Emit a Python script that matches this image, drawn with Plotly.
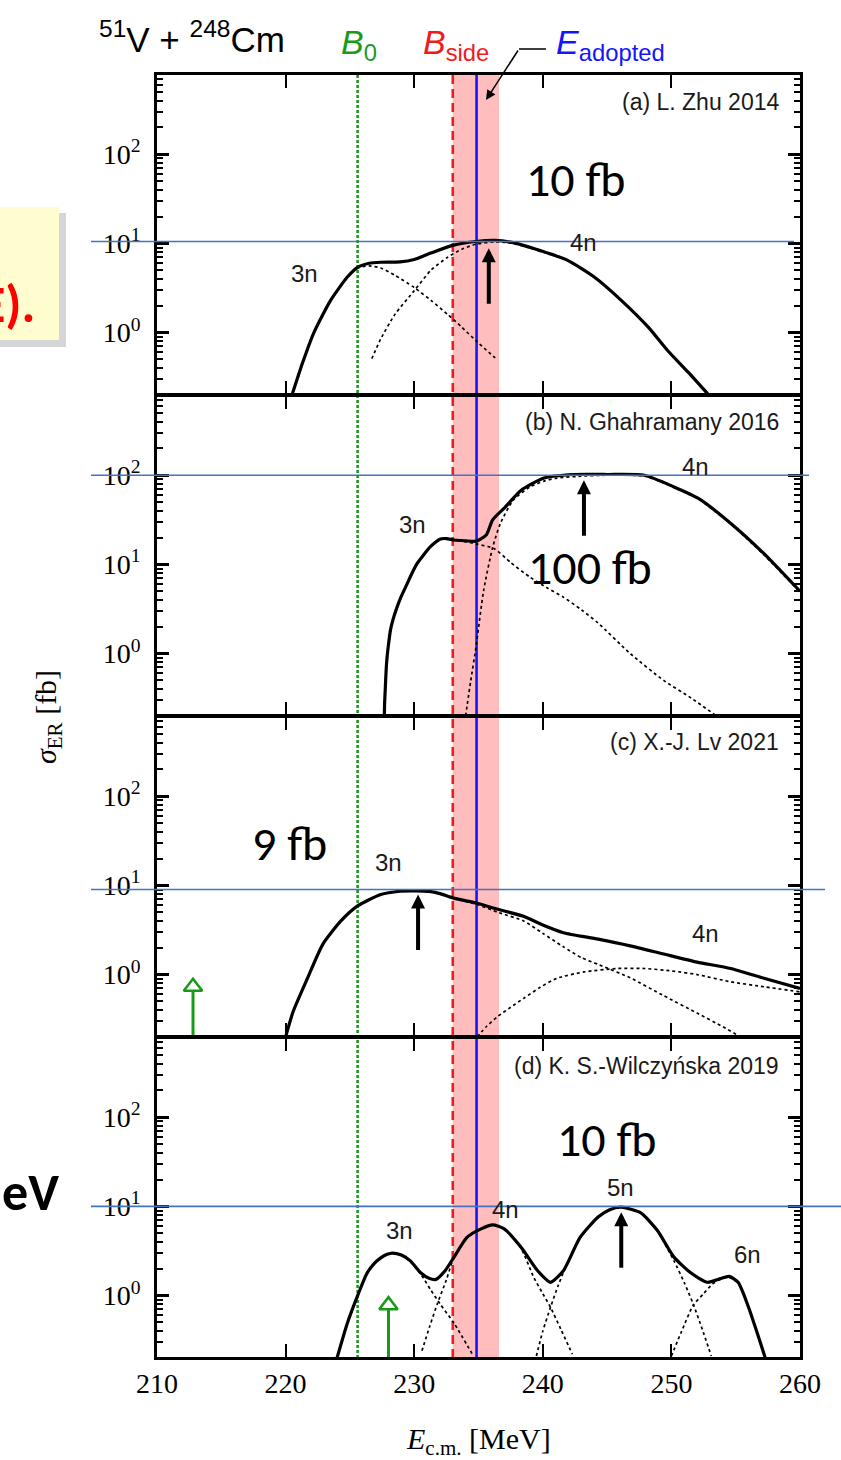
import plotly.graph_objects as go
from plotly.subplots import make_subplots
import numpy as np

W, H = 841, 1460
ML, MR, MT, MB = 157, 41, 74, 102

SANS = "Liberation Sans, Arial, sans-serif"
SERIF = "Liberation Serif, Times New Roman, serif"
CAL = "Carlito, Lato, sans-serif"

# ---------------- data (E_cm in MeV, sigma_ER in fb) ----------------
# (a) L. Zhu 2014
a_E_tot = [220.5, 221.3, 222.2, 223.5, 224.8, 225.6, 226.5, 227.4, 228.9, 230.0, 231.3, 233.0, 234.8,
           236.3, 237.7, 239.8, 241.9, 244.0, 246.1, 248.2, 249.7, 251.3, 252.9]
a_tot = [0.2, 0.45, 1.0, 2.3, 4.2, 5.4, 6.0, 6.15, 6.2, 6.6, 7.8, 9.5, 10.5,
         10.8, 10.2, 8.3, 6.5, 4.2, 2.3, 1.15, 0.63, 0.36, 0.2]
a_E_3n = [220.5, 222.2, 223.5, 224.8, 225.6, 226.5, 227.4, 228.5, 230.0, 231.3, 232.6, 233.7, 234.8, 236.3]
a_3n = [0.2, 1.0, 2.3, 4.2, 5.3, 5.6, 5.3, 4.4, 3.2, 2.3, 1.6, 1.15, 0.81, 0.52]
a_E_4n = [226.7, 227.4, 228.5, 230.0, 231.3, 232.6, 233.7, 234.8, 236.3, 237.7, 239.8, 241.9, 244.0,
          246.1, 248.2, 249.7, 251.3, 252.9]
a_4n = [0.51, 0.85, 1.6, 2.95, 5.0, 7.0, 8.6, 9.8, 10.4, 10.0, 8.2, 6.45, 4.2, 2.3, 1.15, 0.63, 0.36, 0.2]

# (b) N. Ghahramany 2016
b_E_tot = [227.68, 227.70, 227.75, 227.82, 227.89, 228.0, 228.15, 228.35, 228.66, 229.0, 229.44, 229.8,
           230.22, 230.7, 231.26, 232.04, 232.5, 233.1, 234.0, 234.8, 235.6, 236.1, 237.0, 238.3,
           240.1, 242.4, 245.0, 247.9, 250.2, 252.1, 254.6, 257.2, 260.0]
b_tot = [0.2, 0.28, 0.40, 0.66, 0.91, 1.26, 1.82, 2.4, 3.3, 4.4, 6.0, 7.8,
         10.2, 12.6, 15.8, 19.3, 19.5, 18.8, 18.4, 18.2, 21.4, 31.6, 42.7, 67.6,
         93, 102, 102, 100, 74, 55, 29, 13.2, 5.0]
b_E_3n = [227.68, 227.70, 227.75, 227.82, 227.89, 228.0, 228.15, 228.35, 228.66, 229.0, 229.44, 229.8,
          230.22, 230.7, 231.26, 232.04, 232.5, 233.1, 234.0, 234.8, 236.2, 237.5, 239.0, 240.3,
          241.6, 243.0, 244.3, 246.8, 249.4, 251.5, 253.5]
b_3n = [0.2, 0.28, 0.40, 0.66, 0.91, 1.26, 1.82, 2.4, 3.3, 4.4, 6.0, 7.8,
        10.2, 12.6, 15.8, 19.3, 19.5, 18.8, 18.0, 17.0, 15.1, 10.5, 7.2, 5.5,
        4.3, 3.1, 2.2, 1.0, 0.5, 0.32, 0.2]
b_E_4n = [234.0, 234.4, 234.8, 235.4, 236.1, 236.7, 237.7, 239.0, 240.1, 241.1, 243.2, 245.0, 247.9,
          250.2, 252.1, 254.6, 257.2, 260.0]
b_4n = [0.2, 0.5, 1.17, 5.1, 15.5, 28.8, 52.5, 74, 86, 93, 98, 100, 98, 73, 54, 28.5, 12.8, 4.9]

# (c) X.-J. Lv 2021
c_E_tot = [220.0, 220.6, 221.7, 222.9, 224.3, 225.6, 227.4, 228.9, 230.0, 231.3, 232.0, 233.1, 234.9,
           236.5, 238.5, 240.0, 241.6, 244.3, 246.8, 249.4, 252.0, 254.6, 257.2, 260.0]
c_tot = [0.2, 0.39, 0.91, 2.2, 4.0, 5.9, 7.9, 8.6, 8.7, 8.5, 8.1, 7.2, 6.3,
         5.4, 4.5, 3.6, 2.95, 2.5, 2.1, 1.7, 1.38, 1.17, 0.91, 0.70]
c_E_3n = [220.0, 220.6, 221.7, 222.9, 224.3, 225.6, 227.4, 228.9, 230.0, 231.3, 232.0, 233.1, 234.9,
          236.5, 238.5, 240.0, 241.6, 243.0, 244.3, 246.8, 249.4, 252.0, 254.0, 255.4]
c_3n = [0.2, 0.39, 0.91, 2.2, 4.0, 5.9, 7.9, 8.6, 8.7, 8.5, 8.1, 7.2, 6.1,
        5.0, 4.0, 2.9, 2.05, 1.55, 1.3, 0.92, 0.58, 0.37, 0.26, 0.2]
c_E_4n = [234.9, 235.6, 236.5, 237.5, 238.5, 239.8, 241.1, 243.2, 245.8, 247.9, 250.0, 252.0, 254.6,
          257.2, 260.0]
c_4n = [0.2, 0.26, 0.34, 0.43, 0.54, 0.72, 0.91, 1.07, 1.17, 1.17, 1.1, 1.0, 0.83, 0.73, 0.64]

# (d) K. S.-Wilczynska 2019
d_E_tot = [224.0, 224.8, 225.6, 226.3, 226.9, 227.4, 227.9, 228.3, 229.0, 229.7, 230.5, 231.2, 231.7,
           232.4, 233.1, 234.1, 235.2, 236.1, 237.0, 238.3, 239.6, 240.6, 241.6, 242.9, 244.3, 245.2,
           246.1, 247.6, 248.9, 250.2, 251.5, 252.8, 253.8, 254.5, 255.2, 256.0, 256.7, 257.3]
d_tot = [0.2, 0.49, 1.0, 1.75, 2.3, 2.65, 2.9, 3.0, 2.85, 2.45, 1.8, 1.55, 1.52,
         1.9, 2.7, 4.5, 5.6, 6.2, 5.6, 3.5, 1.9, 1.41, 1.9, 4.5, 7.6, 9.2,
         9.8, 8.5, 5.4, 2.7, 1.8, 1.41, 1.55, 1.64, 1.4, 0.74, 0.37, 0.2]
d_E_3n = [224.0, 224.8, 225.6, 226.3, 226.9, 227.4, 227.9, 228.3, 229.0, 229.7, 230.5, 231.3, 232.0,
          233.1, 234.6]
d_3n = [0.2, 0.49, 1.0, 1.75, 2.3, 2.65, 2.9, 3.0, 2.85, 2.4, 1.75, 1.15, 0.81, 0.49, 0.21]
d_E_4n = [230.6, 231.2, 231.8, 232.5, 233.1, 234.1, 235.2, 236.1, 237.0, 238.3, 239.3, 240.0, 240.6,
          241.4, 242.3]
d_4n = [0.24, 0.45, 0.81, 1.5, 2.7, 4.4, 5.6, 6.2, 5.6, 3.4, 1.6, 1.05, 0.74, 0.42, 0.22]
d_E_5n = [239.5, 240.0, 240.6, 241.2, 241.9, 242.9, 244.3, 245.2, 246.1, 247.6, 248.9, 250.2, 251.0,
          251.7, 252.4, 253.1]
d_5n = [0.21, 0.4, 0.74, 1.3, 2.3, 4.4, 7.6, 9.2, 9.8, 8.5, 5.3, 2.45, 1.4, 0.8, 0.42, 0.21]
d_E_6n = [250.0, 250.8, 251.7, 252.5, 253.2, 253.8, 254.5, 255.2, 256.0, 256.7, 257.3]
d_6n = [0.21, 0.4, 0.78, 1.05, 1.35, 1.52, 1.6, 1.38, 0.74, 0.37, 0.2]

panel_labels = ["(a) L. Zhu 2014", "(b) N. Ghahramany 2016", "(c) X.-J. Lv 2021",
                "(d) K. S.-Wilczyńska 2019"]

# reference energies (MeV)
E_B0 = 225.6
E_Bside = 233.0
E_adopted = 234.85
band_E = [233.0, 236.6]

# black arrows (tip energy, tip value)
arrow_E = [235.8, 243.2, 230.3, 246.1]
arrow_tip = [8.8, 88, 7.9, 8.6]
# green open arrows (row, energy, head-center value, shaft top value)
green_rows = [3, 4]
green_E = [212.8, 228.0]
green_head = [0.73, 0.78]
green_shaft_top = [0.66, 0.70]

# blue horizontal guide levels
guide_vals = [10.5, 100, 9, 10]
guide_labels = ["10 fb", "100 fb", "9 fb", "10 fb"]

# ---------------- figure ----------------
fig = make_subplots(rows=4, cols=1, shared_xaxes=True, vertical_spacing=0)

panels = [
    (a_E_tot, a_tot, [(a_E_3n, a_3n), (a_E_4n, a_4n)]),
    (b_E_tot, b_tot, [(b_E_3n, b_3n), (b_E_4n, b_4n)]),
    (c_E_tot, c_tot, [(c_E_3n, c_3n), (c_E_4n, c_4n)]),
    (d_E_tot, d_tot, [(d_E_3n, d_3n), (d_E_4n, d_4n), (d_E_5n, d_5n), (d_E_6n, d_6n)]),
]

for r, (Et, st, comps) in enumerate(panels, start=1):
    for Ec, sc in comps:
        fig.add_trace(go.Scatter(x=Ec, y=sc, mode="lines",
                                 line=dict(color="black", width=1.7, dash="3px,3px",
                                           shape="spline", smoothing=0.6),
                                 showlegend=False, hoverinfo="skip"), row=r, col=1)
    fig.add_trace(go.Scatter(x=Et, y=st, mode="lines",
                             line=dict(color="black", width=3.2, shape="spline", smoothing=0.6),
                             showlegend=False, hoverinfo="skip"), row=r, col=1)

GREEN = "#1a9a1a"
RED = "#f01c1c"
BLUE = "#1414ff"

# green open arrows
for r, e, hv, st in zip(green_rows, green_E, green_head, green_shaft_top):
    fig.add_trace(go.Scatter(x=[e, e], y=[0.1, st], mode="lines",
                             line=dict(color=GREEN, width=3), showlegend=False,
                             hoverinfo="skip"), row=r, col=1)
    fig.add_trace(go.Scatter(x=[e], y=[hv], mode="markers",
                             marker=dict(symbol="triangle-up-open", size=16, color=GREEN,
                                         line=dict(color=GREEN, width=2.6)),
                             showlegend=False, hoverinfo="skip"), row=r, col=1)

minor_vals = [m * d for d in (0.1, 1, 10, 100) for m in range(2, 10) if 0.2 <= m * d <= 800]

for r in range(1, 5):
    fig.update_xaxes(row=r, col=1, range=[210, 260], tick0=210, dtick=10,
                     ticks="inside", ticklen=14, tickwidth=2, tickcolor="black",
                     showline=True, linecolor="black", linewidth=1.5, mirror="allticks",
                     showgrid=False, zeroline=False,
                     tickfont=dict(family=SERIF, size=28, color="black"),
                     ticklabelstandoff=0)
    fig.update_yaxes(row=r, col=1, type="log", range=[-0.7, 2.9],
                     tickmode="array", tickvals=[1, 10, 100],
                     ticktext=["10<sup>0</sup>", "10<sup>1</sup>", "10<sup>2</sup>"],
                     ticks="inside", ticklen=12, tickwidth=2.5, tickcolor="black",
                     minor=dict(tickmode="array", tickvals=minor_vals, ticks="inside",
                                ticklen=6, tickwidth=2, tickcolor="black", showgrid=False),
                     showline=True, linecolor="black", linewidth=2.5, mirror="allticks",
                     showgrid=False, zeroline=False,
                     tickfont=dict(family=SERIF, size=28, color="black"),
                     ticklabelstandoff=8)


def px(x):
    return (x - ML) / (W - ML - MR)


def py(y):
    return (H - MB - y) / (H - MT - MB)


shapes = []
# slide-like yellow box (cropped) with shadow
shapes.append(dict(type="rect", xref="paper", yref="paper", x0=px(-10), x1=px(66),
                   y0=py(347), y1=py(213), fillcolor="rgba(120,120,120,0.30)", line_width=0,
                   layer="below"))
shapes.append(dict(type="rect", xref="paper", yref="paper", x0=px(-10), x1=px(59),
                   y0=py(340), y1=py(207), fillcolor="#FFFDD0", line_width=0, layer="below"))
# band and vertical lines
shapes.append(dict(type="rect", xref="x", yref="paper", x0=band_E[0], x1=band_E[1], y0=0, y1=1,
                   fillcolor="#FFBDBD", line_width=0, layer="below"))
shapes.append(dict(type="line", xref="x", yref="paper", x0=E_B0, x1=E_B0, y0=0, y1=1,
                   line=dict(color=GREEN, width=2.6, dash="3px,2px"), layer="below"))
shapes.append(dict(type="line", xref="x", yref="paper", x0=E_Bside, x1=E_Bside, y0=0, y1=1,
                   line=dict(color=RED, width=2.6, dash="9px,5px"), layer="below"))
shapes.append(dict(type="line", xref="x", yref="paper", x0=E_adopted, x1=E_adopted, y0=0, y1=1,
                   line=dict(color=BLUE, width=2.6), layer="below"))
# thicker outer frame edges (top and bottom)
for yy in (0, 1):
    shapes.append(dict(type="line", xref="paper", yref="paper", x0=0, x1=1, y0=yy, y1=yy,
                       line=dict(color="black", width=2.2), layer="above"))
# blue guide lines
guide_x1 = [794, 809, 825, 845]
for r, (v, x1) in enumerate(zip(guide_vals, guide_x1), start=1):
    yr = "y" if r == 1 else f"y{r}"
    shapes.append(dict(type="line", xref="paper", yref=yr, x0=px(91), x1=px(x1), y0=v, y1=v,
                       line=dict(color="#4472C4", width=1.6), layer="above"))
# leader for E_adopted label
shapes.append(dict(type="line", xref="paper", yref="paper", x0=px(519), x1=px(546),
                   y0=py(49), y1=py(49), line=dict(color="black", width=1.5)))
fig.update_layout(shapes=shapes)

ann = []
# black up arrows
for r, e, t in zip(range(1, 5), arrow_E, arrow_tip):
    xr = "x" if r == 1 else f"x{r}"
    yr = "y" if r == 1 else f"y{r}"
    ann.append(dict(x=e, y=np.log10(t), xref=xr, yref=yr, text="", showarrow=True,
                    ax=0, ay=57, arrowhead=2, arrowsize=0.7, arrowwidth=4, arrowcolor="black"))
# leader arrow
ann.append(dict(x=px(486), y=py(100), xref="paper", yref="paper", text="", showarrow=True,
                ax=33, ay=-51, arrowhead=2, arrowsize=1.3, arrowwidth=1.5, arrowcolor="black"))

# panel labels
for lab, yy in zip(panel_labels, [102, 422, 742, 1066]):
    ann.append(dict(x=px(781), y=py(yy), xref="paper", yref="paper", text=lab, showarrow=False,
                    xanchor="right", yanchor="middle",
                    font=dict(family=SANS, size=23, color="#1a1a1a")))
# channel labels
chan = [("3n", 304, 273), ("4n", 583, 243), ("3n", 412, 524), ("4n", 695, 466),
        ("3n", 388, 862), ("4n", 705, 933), ("3n", 399, 1230), ("4n", 505, 1209),
        ("5n", 620, 1187), ("6n", 747, 1254)]
for t, xx, yy in chan:
    ann.append(dict(x=px(xx), y=py(yy), xref="paper", yref="paper", text=t, showarrow=False,
                    xanchor="center", yanchor="middle",
                    font=dict(family=SANS, size=24, color="#1a1a1a")))
# fb labels
for t, (xx, yy) in zip(guide_labels, [(575, 180), (589, 567), (289, 843), (606, 1139)]):
    ann.append(dict(x=px(xx), y=py(yy), xref="paper", yref="paper", text=t, showarrow=False,
                    xanchor="center", yanchor="middle",
                    font=dict(family=CAL, size=48, color="black")))
# top header
ann.append(dict(x=px(97), y=py(37), xref="paper", yref="paper",
                text="<sup>51</sup>V + <sup>248</sup>Cm", showarrow=False,
                xanchor="left", yanchor="middle", font=dict(family=SANS, size=35, color="black")))
ann.append(dict(x=px(339), y=py(45), xref="paper", yref="paper",
                text="<i>B</i><sub>0</sub>", showarrow=False,
                xanchor="left", yanchor="middle", font=dict(family=SANS, size=34, color=GREEN)))
ann.append(dict(x=px(421), y=py(45), xref="paper", yref="paper",
                text="<i>B</i><sub>side</sub>", showarrow=False,
                xanchor="left", yanchor="middle", font=dict(family=SANS, size=34, color=RED)))
ann.append(dict(x=px(554), y=py(45), xref="paper", yref="paper",
                text="<i>E</i><sub>adopted</sub>", showarrow=False,
                xanchor="left", yanchor="middle", font=dict(family=SANS, size=34, color=BLUE)))
# axis titles
ann.append(dict(x=px(478), y=py(1441), xref="paper", yref="paper",
                text="<i>E</i><sub>c.m.</sub> [MeV]", showarrow=False,
                xanchor="center", yanchor="middle", font=dict(family=SERIF, size=30, color="black")))
ann.append(dict(x=px(48), y=py(717), xref="paper", yref="paper", textangle=-90,
                text="<i>σ</i><sub>ER</sub> [fb]", showarrow=False,
                xanchor="center", yanchor="middle", font=dict(family=SERIF, size=30, color="black")))
# slide fragments
ann.append(dict(x=px(37), y=py(304), xref="paper", yref="paper", text="<b>E).</b>",
                showarrow=False, xanchor="right", yanchor="middle",
                font=dict(family=CAL, size=52, color="#ff0000")))
ann.append(dict(x=px(61), y=py(1192), xref="paper", yref="paper", text="<b>eV</b>",
                showarrow=False, xanchor="right", yanchor="middle",
                font=dict(family=CAL, size=52, color="black")))

fig.update_layout(annotations=ann, width=W, height=H,
                  margin=dict(l=ML, r=MR, t=MT, b=MB),
                  paper_bgcolor="white", plot_bgcolor="rgba(0,0,0,0)",
                  showlegend=False)

fig.write_html("out.html")
